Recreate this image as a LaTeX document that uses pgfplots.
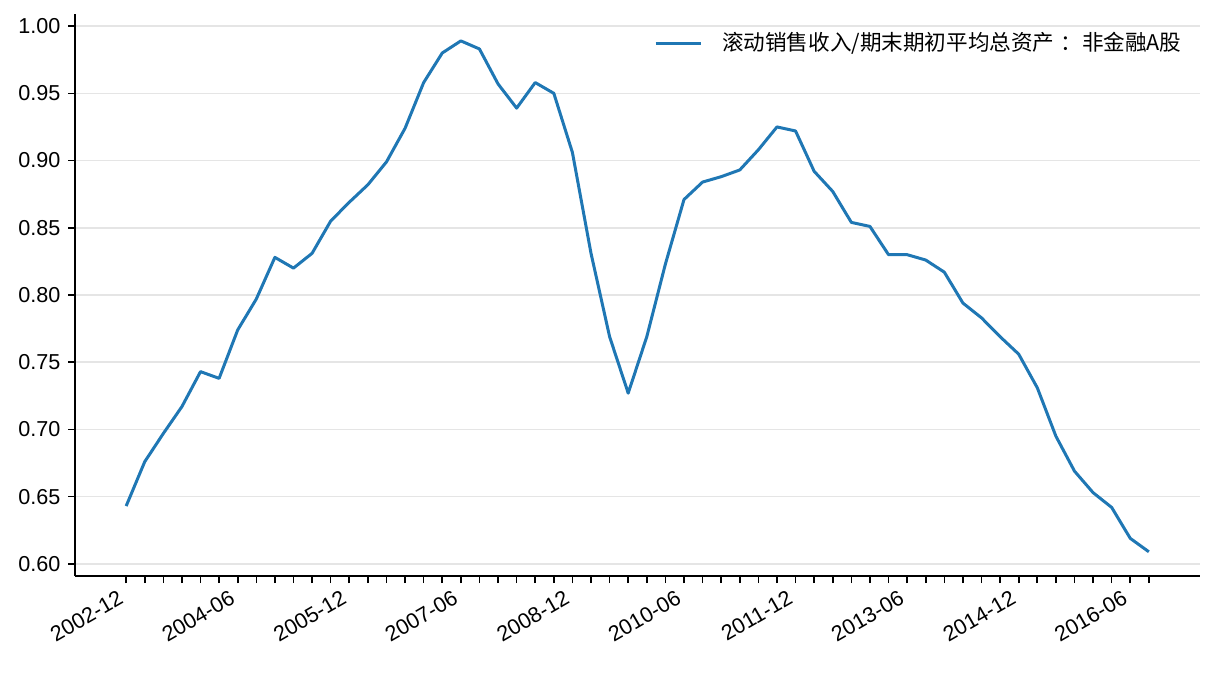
\documentclass[border=0pt]{standalone}
\usepackage{fontspec}
\setmainfont{Liberation Sans}
\newfontfamily\cjk{Noto Sans CJK SC}
\usepackage{graphicx}
\usepackage{pgfplots}
\pgfplotsset{compat=1.18}
\usetikzlibrary{calc}
\definecolor{mplblue}{HTML}{1F77B4}
\newcommand{\rl}[1]{\rotatebox{30}{#1}}
\begin{document}
\fontsize{10.8}{13}\selectfont
\begin{tikzpicture}
  \begin{axis}[
      name=ax,
      scale only axis,
      width=562.5pt, height=281pt,
      axis lines*=left,
      axis line style={-, line width=0.8pt},
      xmin=-2.75, xmax=57.75,
      ymin=0.591, ymax=1.009,
      xtick={0,6,...,54},
      xticklabels={\rl{2002-12},\rl{2004-06},\rl{2005-12},\rl{2007-06},\rl{2008-12},
        \rl{2010-06},\rl{2011-12},\rl{2013-06},\rl{2014-12},\rl{2016-06}},
      minor xtick={0,...,55},
      ytick={0.60,0.65,...,1.00},
      tick align=outside,
      major tick length=3.5pt,
      minor tick length=3.5pt,
      every tick/.style={black, line width=0.8pt},
      ticklabel style={font=\fontsize{10.8}{13}\selectfont},
      x tick label style={anchor=north east, inner sep=0pt, xshift=-0.5pt, yshift=-3pt},
      yticklabel style={
        /pgf/number format/.cd, fixed, fixed zerofill, precision=2, assume math mode=true,
        /tikz/.cd
      },
      scaled y ticks=false,
      ymajorgrids=true,
      grid style={gray!20, line width=0.75pt},
      legend style={draw=none, fill=none, at={(1,1)}, anchor=north east,
        xshift=-4pt, yshift=-5pt, font=\cjk\fontsize{10.8}{13}\selectfont,
        /tikz/every odd column/.append style={column sep=8pt}},
      legend image code/.code={\draw[#1] (0pt,0pt) -- (22.5pt,0pt);},
      legend cell align=left,
    ]
    \addplot[mplblue, line width=1.5pt, line join=round] coordinates {
      (0,0.643) (1,0.676) (2,0.697) (3,0.717) (4,0.743) (5,0.738)
      (6,0.774) (7,0.797) (8,0.828) (9,0.820) (10,0.831) (11,0.855)
      (12,0.869) (13,0.882) (14,0.899) (15,0.924) (16,0.958) (17,0.980)
      (18,0.989) (19,0.983) (20,0.957) (21,0.939) (22,0.958) (23,0.950)
      (24,0.906) (25,0.831) (26,0.769) (27,0.727) (28,0.769) (29,0.823)
      (30,0.871) (31,0.884) (32,0.888) (33,0.893) (34,0.908) (35,0.925)
      (36,0.922) (37,0.892) (38,0.877) (39,0.854) (40,0.851) (41,0.830)
      (42,0.830) (43,0.826) (44,0.817) (45,0.794) (46,0.783) (47,0.769)
      (48,0.756) (49,0.731) (50,0.695) (51,0.669) (52,0.653) (53,0.642)
      (54,0.619) (55,0.609)
    };
    \addlegendentry{滚动销售收入/期末期初平均总资产\kern3pt：非金融A股}
  \end{axis}
  \pgfresetboundingbox
  \useasboundingbox ($(ax.south west)+(-37.5pt,-48pt)$) rectangle ($(ax.north east)+(8pt,7pt)$);
\end{tikzpicture}
\end{document}
